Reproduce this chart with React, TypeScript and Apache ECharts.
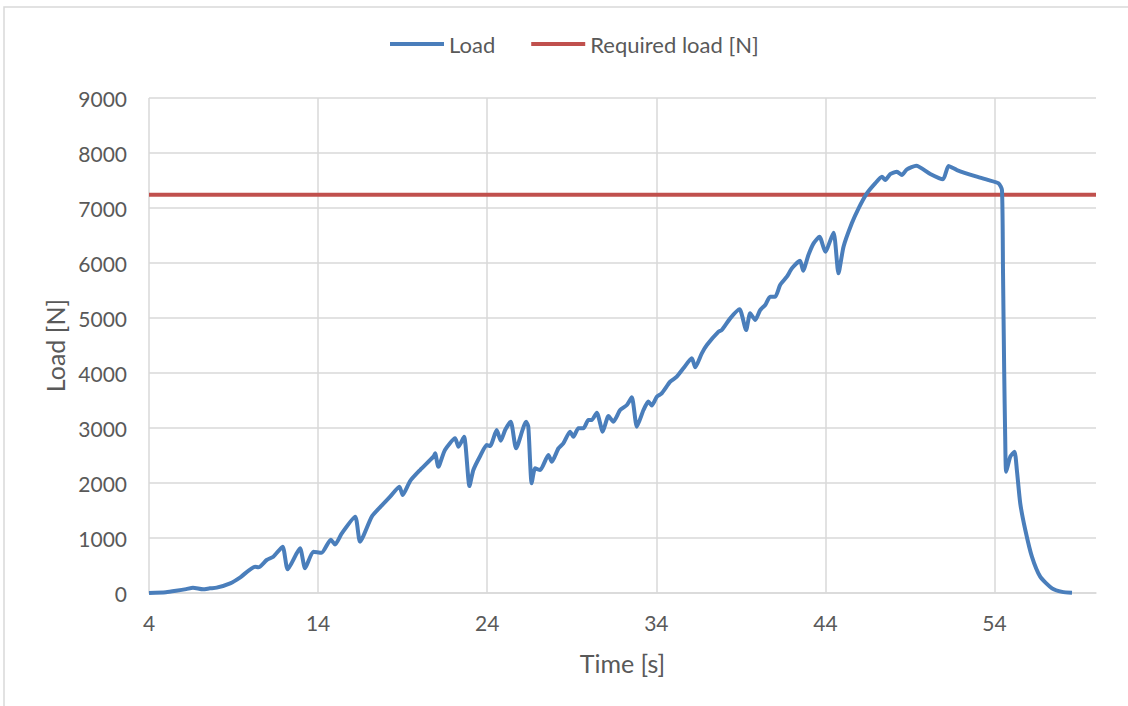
import React, { useEffect, useRef } from "react";
import * as echarts from "echarts";

const timeS: number[] = [
  4.0, 5.0, 5.6, 6.2, 6.6, 7.2, 7.6, 8.0, 8.8, 9.4, 10.27, 10.47, 10.96, 11.35, 11.9, 12.2, 12.93, 13.23, 13.72, 14.2,
  14.75, 15.0, 15.4, 16.19, 16.48, 17.17, 17.66, 18.26, 18.81, 19.0, 19.44, 20.03, 20.82, 20.92, 21.11, 21.5, 22.1, 22.3, 22.63, 22.95,
  23.18, 23.6, 23.97, 24.17, 24.56, 24.8, 25.06, 25.39, 25.71, 26.3, 26.43, 26.63, 26.83, 27.13, 27.62, 27.82, 28.21, 28.5, 28.9, 29.1,
  29.39, 29.69, 29.98, 30.18, 30.48, 30.83, 31.17, 31.46, 31.86, 32.26, 32.55, 32.85, 33.24, 33.53, 33.73, 34.03, 34.32, 34.82, 35.21, 35.6,
  36.1, 36.3, 36.69, 36.99, 37.68, 37.87, 38.37, 38.92, 39.31, 39.55, 39.85, 40.14, 40.44, 40.73, 41.03, 41.32, 41.72, 42.02, 42.5, 42.68,
  43.0, 43.3, 43.65, 43.99, 44.48, 44.77, 45.07, 45.56, 45.96, 46.45, 46.94, 47.34, 47.54, 47.83, 48.23, 48.52, 48.82, 49.37, 50.2, 50.95,
  51.28, 51.78, 52.95, 53.6, 54.24, 54.44, 54.5, 54.57, 54.63, 54.69, 54.93, 55.18, 55.32, 55.52, 55.82, 56.21, 56.7, 57.4, 58.0, 58.58,
];

const loadN: number[] = [
  0, 15, 40, 70, 97, 67, 85, 97, 176, 285, 479, 467, 600, 660, 842, 431, 812, 449, 751, 730,
  970, 880, 1085, 1388, 933, 1388, 1558, 1751, 1933, 1782, 2036, 2236, 2478, 2539, 2296, 2600, 2812, 2660, 2842, 1945,
  2236, 2500, 2690, 2672, 2963, 2769, 2963, 3115, 2630, 3115, 3024, 1994, 2266, 2236, 2509, 2387, 2630, 2721, 2933, 2842,
  2994, 2994, 3145, 3145, 3278, 2933, 3218, 3115, 3327, 3418, 3557, 3024, 3327, 3480, 3410, 3569, 3630, 3842, 3933, 4085,
  4267, 4103, 4358, 4509, 4751, 4781, 4994, 5157, 4781, 5085, 4963, 5145, 5236, 5387, 5387, 5600, 5751, 5903, 6040, 5860,
  6150, 6357, 6478, 6205, 6551, 5812, 6296, 6721, 6994, 7266, 7448, 7569, 7509, 7618, 7660, 7600, 7703, 7769, 7618, 7521,
  7763, 7690, 7569, 7510, 7448, 7327, 5872, 4054, 2842, 2205, 2478, 2569, 2236, 1630, 1145, 660, 297, 85, 20, 5,
];

const requiredLoad = 7240;
const xMin = 4;
const xMax = 60;
const xStep = 10;
const yMin = 0;
const yMax = 9000;
const yStep = 1000;
const seriesNames = ["Load", "Required load [N]"];
const xAxisName = "Time [s]";
const yAxisName = "Load [N]";

const FONT = "Lato, 'Open Sans', sans-serif";
const TEXT = "#595959";
const GRIDC = "#d9d9d9";

export default function App() {
  const ref = useRef<HTMLDivElement>(null);
  useEffect(() => {
    if (!ref.current) return;
    const chart = echarts.init(ref.current, undefined, { renderer: "svg" });
    chart.setOption({
      animation: false,
      backgroundColor: "#ffffff",
      textStyle: { fontFamily: FONT, color: TEXT },
      graphic: [
        {
          type: "rect",
          shape: { x: 4, y: 7, width: 1300, height: 900 },
          style: { fill: "none", stroke: GRIDC, lineWidth: 1.5 },
          silent: true,
          z: -1,
        },
      ],
      legend: {
        top: 28,
        left: 385,
        itemWidth: 54,
        itemHeight: 4,
        itemGap: 36,
        icon: "rect",
        textStyle: { fontFamily: FONT, color: TEXT, fontSize: 22 },
        data: seriesNames,
      },
      grid: { left: 149, right: 32, top: 98, bottom: 113, containLabel: false },
      xAxis: {
        type: "value",
        min: xMin,
        max: xMax,
        interval: xStep,
        name: xAxisName,
        nameLocation: "middle",
        nameGap: 57,
        nameTextStyle: { fontFamily: FONT, color: TEXT, fontSize: 25 },
        axisLine: { show: true, lineStyle: { color: GRIDC, width: 1.5 } },
        axisTick: { show: false },
        axisLabel: { fontFamily: FONT, color: TEXT, fontSize: 21, margin: 19, showMaxLabel: false },
        splitLine: { show: true, showMaxLine: false, lineStyle: { color: GRIDC, width: 1.5 } },
      },
      yAxis: {
        type: "value",
        min: yMin,
        max: yMax,
        interval: yStep,
        name: yAxisName,
        nameLocation: "middle",
        nameGap: 82,
        nameRotate: 90,
        nameTextStyle: { fontFamily: FONT, color: TEXT, fontSize: 25 },
        axisLine: { show: false },
        axisTick: { show: false },
        axisLabel: {
          fontFamily: FONT,
          color: TEXT,
          fontSize: 21,
          margin: 22,
          formatter: (v: number) => String(v),
        },
        splitLine: { show: true, lineStyle: { color: GRIDC, width: 1.5 } },
      },
      series: [
        {
          name: seriesNames[0],
          type: "line",
          data: timeS.map((t, i) => [t, loadN[i]]),
          showSymbol: false,
          smooth: 0.2,
          lineStyle: { color: "#4a7ebb", width: 4 },
          itemStyle: { color: "#4a7ebb" },
          z: 3,
        },
        {
          name: seriesNames[1],
          type: "line",
          data: [
            [xMin, requiredLoad],
            [xMax, requiredLoad],
          ],
          showSymbol: false,
          lineStyle: { color: "#c0504d", width: 4 },
          itemStyle: { color: "#c0504d" },
          z: 2,
        },
      ],
    });
    return () => chart.dispose();
  }, []);
  return (
    <div
      ref={ref}
      style={{ position: "fixed", left: 0, top: 0, width: 1128, height: 706 }}
    />
  );
}
